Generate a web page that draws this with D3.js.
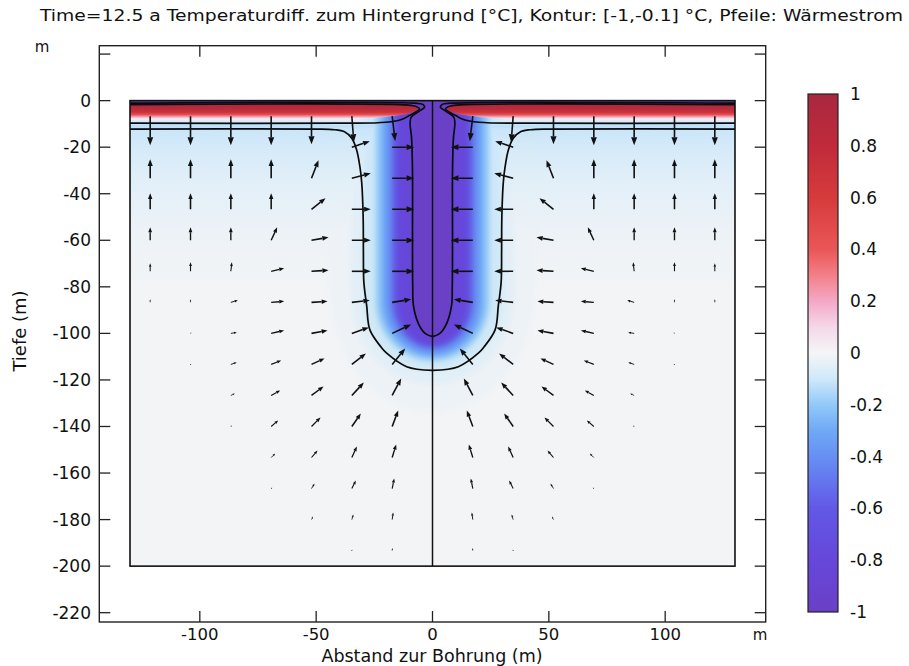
<!DOCTYPE html>
<html>
<head>
<meta charset="utf-8">
<script src="https://cdn.jsdelivr.net/npm/d3@7"></script>
<style>
body { margin: 0; background: #fff; }
svg text { font-family: "DejaVu Sans", sans-serif; fill: #111; }
</style>
</head>
<body>
<div id="chart"></div>
<script>
// ---- data ----
const titleText = "Time=12.5 a Temperaturdiff. zum Hintergrund [°C], Kontur: [-1,-0.1] °C, Pfeile: Wärmestrom";
const xTicks = [-100, -50, 0, 50, 100];
const yTicks = [-220, -200, -180, -160, -140, -120, -100, -80, -60, -40, -20, 0, 20];
const yTickLabels = ["-220", "-200", "-180", "-160", "-140", "-120", "-100", "-80", "-60", "-40", "-20", "0", ""];
const cbTicks = [-1, -0.8, -0.6, -0.4, -0.2, 0, 0.2, 0.4, 0.6, 0.8, 1];
const cbTickLabels = ["-1", "-0.8", "-0.6", "-0.4", "-0.2", "0", "0.2", "0.4", "0.6", "0.8", "1"];

// colour table (value -> colour)
const cmapValues = [-1, -0.8, -0.6, -0.4, -0.3, -0.2, -0.1, 0, 0.1, 0.2, 0.3, 0.4, 0.6, 0.8, 1];
const cmapColors = ["#6a40c6", "#6647da", "#6258e6", "#6690f3", "#70a8f6", "#92c9f8", "#cfe8fa", "#f5f5f6",
                    "#f4d8e8", "#f4a8c6", "#f28088", "#ea5656", "#d63b3c", "#c02a3a", "#a8283f"];

// model domain (m)
const domainX = [-130, 130];
const domainZ = [-200, 0];

// horizontal layering near the surface: depth -> temperature difference
const bandDepth = [-6.5, -9.7, -11, -12.2, -20, -35, -55, -80];
const bandValue = [0, -0.1, -0.13, -0.11, -0.085, -0.05, -0.025, -0.008];
const redDepth = [-1.6, -3.5, -5, -6, -6.8, -7.6, -8.4];
const redValue = [0.95, 0.85, 0.7, 0.45, 0.25, 0.08, 0];

// cold plume around the borehole: level, half width, bottom, depth where it bends
const plumeLevel = [-0.02, -0.05, -0.1, -0.2, -0.3, -0.4, -0.6, -0.8, -1];
const plumeHalfWidth = [44, 35, 29.8, 24.5, 22, 20, 17.5, 15, 8.6];
const plumeBottom = [-134, -122, -116, -112, -110, -108.5, -106.5, -105, -101.4];
const plumeBend = [-82, -84, -86, -86, -86, -86, -86, -86, -84];

// warm band (right half, mirrored)
const redBandOutline = [[130, -1.6], [12, -1.6], [8, -2.1], [6.3, -3.2], [7.2, -4.4], [10, -5.4], [16, -6.5], [25, -7.4], [45, -8.2], [130, -8.4]];

// contour lines (right half, mirrored)
const contourMinus1 = [[130, -1.1], [8, -1.1], [4.2, -1.6], [3.4, -2.8], [5.8, -4.6], [9.2, -7.2], [9.6, -10], [9, -16], [8.6, -30],
                       [8.6, -60], [8.5, -80], [8.2, -88], [6.1, -95.7], [3.2, -100], [0, -101.4]];
const contourUpper01 = [[130, -1.7], [12, -1.8], [7.8, -2.3], [5.6, -3.4], [7, -4.8], [9.8, -6.3], [13, -8], [20, -9.3], [40, -9.7], [130, -9.7]];
const contourOuter01 = [[130, -12.2], [50, -12.2], [42, -12.5], [38, -13.3], [34.7, -16.2], [32.6, -21.2], [31.2, -28.4], [30.4, -35.5],
                        [29.8, -50], [29.7, -65], [29.5, -78], [28.3, -88], [26.9, -98.5], [22, -106], [19.7, -108.5], [11.1, -114.3], [0, -115.9]];

// heat-flux arrows (right half, mirrored): grid positions and components (relative units, qz positive upward)
const arrowR = [17.33, 34.67, 52, 69.33, 86.67, 104, 121.33];
const arrowZ = [-6.67, -20, -33.33, -46.67, -60, -73.33, -86.67, -100, -113.33, -126.67, -140, -153.33, -166.67, -180, -193.33];
const arrowQr = [
  [-3, -2, 0, 0, 0, 0, 0],
  [-22, -18, 0, 0, 0, 0, 0],
  [-22, -19, -7, 0, 0, 0, 0],
  [-22, -19, -14, 0, 0, 0, 0],
  [-22, -19, -17, -6, 0, 0, 0],
  [-22, -19, -17, -13, -1, 0, 0],
  [-19, -18, -16, -13, -7, 0, 0],
  [-19, -17, -16, -13, -6, -1, 0],
  [-13, -14, -13, -10, -6, -1, 0],
  [-9, -12, -12, -9, -4, 0, 0],
  [-6, -9, -9, -7, -1, 0, 0],
  [-4, -5, -6, -4, 0, 0, 0],
  [-2, -4, -3, -1, 0, 0, 0],
  [-1, -1.5, -1.5, 0, 0, 0, 0],
  [-0.3, -0.3, 0, 0, 0, 0, 0]
];
const arrowQz = [
  [-25, -26, -28, -29, -29, -29, -29],
  [0, 6, 0, 0, 0, 0, 0],
  [0, 5, 18, 19, 19, 19, 19],
  [0, 0, 11, 16, 16, 16, 16],
  [0, 0, 3, 13, 13, 13, 13],
  [0, 0, 1, 3, 9, 9, 8],
  [3, 2, 1, 1, 2, 3, 3],
  [9, 6, 3, 3, 1, 1, 0.5],
  [16, 11, 6, 4, 2, 0, 0],
  [17, 13, 9, 5, 2, 0, 0],
  [16, 13, 9, 6, 1, 0, 0],
  [13, 11, 7, 4, 0, 0, 0],
  [10, 8, 5, 1, 0, 0, 0],
  [7, 5, 3, 0, 0, 0, 0],
  [2.5, 1, 0, 0, 0, 0, 0]
];
const arrowScale = 0.43; // metres of plot per unit

// ---- drawing ----
const width = 909, height = 666;
const svg = d3.select("#chart").append("svg")
    .attr("width", width).attr("height", height)
    .attr("viewBox", [0, 0, width, height]);
const defs = svg.append("defs");

const x = d3.scaleLinear().domain([-143.2, 143.2]).range([99.3, 765.7]);
const y = d3.scaleLinear().domain([23.6, -224]).range([45.7, 622]);
const color = d3.scaleLinear().domain(cmapValues).range(cmapColors).interpolate(d3.interpolateRgb).clamp(true);

const mirror = pts => pts.map(p => [-p[0], p[1]]);
const smooth = d3.line().x(d => x(d[0])).y(d => y(d[1])).curve(d3.curveCatmullRom.alpha(0.5));

// clip to model domain
defs.append("clipPath").attr("id", "dom").append("rect")
    .attr("x", x(domainX[0])).attr("y", y(domainZ[1]))
    .attr("width", x(domainX[1]) - x(domainX[0])).attr("height", y(domainZ[0]) - y(domainZ[1]));

defs.append("filter").attr("id", "soft").attr("x", "-20%").attr("y", "-20%").attr("width", "140%").attr("height", "140%")
    .append("feGaussianBlur").attr("stdDeviation", 2.8);

// vertical gradients in user space
function vGradient(id, depths, values, fade) {
    const y0 = y(depths[0]), y1 = y(depths[depths.length - 1]);
    const g = defs.append("linearGradient").attr("id", id)
        .attr("gradientUnits", "userSpaceOnUse")
        .attr("x1", 0).attr("x2", 0).attr("y1", y0).attr("y2", y1);
    depths.forEach((d, i) => {
        g.append("stop").attr("offset", (y(d) - y0) / (y1 - y0))
            .attr("stop-color", color(values[i]))
            .attr("stop-opacity", fade && i === depths.length - 1 ? 0 : 1);
    });
}
vGradient("band", bandDepth, bandValue, false);
vGradient("warm", redDepth, redValue, true);

const field = svg.append("g").attr("clip-path", "url(#dom)").style("isolation", "isolate");

field.append("rect")
    .attr("x", x(domainX[0])).attr("y", y(0))
    .attr("width", x(domainX[1]) - x(domainX[0])).attr("height", y(-200) - y(0))
    .attr("fill", color(-0.005));

field.append("rect")
    .attr("x", x(domainX[0])).attr("y", y(bandDepth[0]))
    .attr("width", x(domainX[1]) - x(domainX[0])).attr("height", y(bandDepth[bandDepth.length - 1]) - y(bandDepth[0]))
    .attr("fill", "url(#band)");

// plume: nested level shapes, softened
const plume = field.append("g").style("mix-blend-mode", "darken")
    .append("g").attr("filter", "url(#soft)");
plumeLevel.forEach((lv, i) => {
    const w = plumeHalfWidth[i], b = plumeBottom[i], k = plumeBend[i];
    const rx = x(w) - x(0), ry = y(b) - y(k);
    const p = `M${x(-w)},${y(2)} L${x(-w)},${y(k)} A${rx},${ry} 0 0 0 ${x(0)},${y(b)} A${rx},${ry} 0 0 0 ${x(w)},${y(k)} L${x(w)},${y(2)} Z`;
    plume.append("path").attr("d", p).attr("fill", color(lv));
});

// warm band near the surface
[redBandOutline, mirror(redBandOutline)].forEach(pts => {
    field.append("path").attr("d", smooth(pts) + "Z").attr("fill", "url(#warm)");
});

// cold surface layer
field.append("rect")
    .attr("x", x(domainX[0])).attr("y", y(0))
    .attr("width", x(domainX[1]) - x(domainX[0])).attr("height", y(-1.5) - y(0))
    .attr("fill", color(-1));

// contour lines
const contours = svg.append("g").attr("clip-path", "url(#dom)")
    .attr("fill", "none").attr("stroke", "#0a0a0a").attr("stroke-width", 1.7);
[contourMinus1, contourUpper01, contourOuter01].forEach(c => {
    contours.append("path").attr("d", smooth(c));
    contours.append("path").attr("d", smooth(mirror(c)));
});

// arrows
const arrows = [];
arrowZ.forEach((z, j) => {
    arrowR.forEach((r, i) => {
        const qr = arrowQr[j][i], qz = arrowQz[j][i];
        arrows.push({ r: r, z: z, qr: qr, qz: qz });
        arrows.push({ r: -r, z: z, qr: -qr, qz: qz });
    });
});
const ag = svg.append("g").attr("clip-path", "url(#dom)");
arrows.forEach(a => {
    const x0 = x(a.r), y0 = y(a.z);
    const x1 = x(a.r + a.qr * arrowScale), y1 = y(a.z + a.qz * arrowScale);
    const len = Math.hypot(x1 - x0, y1 - y0);
    if (len < 0.8) return;
    const ux = (x1 - x0) / len, uy = (y1 - y0) / len;
    const hl = Math.min(8, 0.3 * len + 1), hw = hl * 0.38;
    const bx = x1 - ux * hl, by = y1 - uy * hl;
    const sw = Math.min(1.6, 0.5 + len * 0.065);
    ag.append("line").attr("x1", x0).attr("y1", y0).attr("x2", bx).attr("y2", by)
        .attr("stroke", "#111").attr("stroke-width", sw);
    ag.append("path")
        .attr("d", `M${x1},${y1} L${bx - uy * hw},${by + ux * hw} L${bx + uy * hw},${by - ux * hw} Z`)
        .attr("fill", "#111");
});

// domain outline and symmetry axis
svg.append("rect")
    .attr("x", x(domainX[0])).attr("y", y(0))
    .attr("width", x(domainX[1]) - x(domainX[0])).attr("height", y(-200) - y(0))
    .attr("fill", "none").attr("stroke", "#111").attr("stroke-width", 1.6);
svg.append("line")
    .attr("x1", x(0)).attr("x2", x(0)).attr("y1", y(0)).attr("y2", y(-200))
    .attr("stroke", "#111").attr("stroke-width", 1.5);

// axes frame
const [fx0, fx1] = x.range(), [fy0, fy1] = y.range();
svg.append("rect").attr("x", fx0).attr("y", fy0).attr("width", fx1 - fx0).attr("height", fy1 - fy0)
    .attr("fill", "none").attr("stroke", "#222").attr("stroke-width", 1.4);
const tickLen = 11;
const tg = svg.append("g").attr("stroke", "#222").attr("stroke-width", 1.3);
xTicks.forEach(t => {
    tg.append("line").attr("x1", x(t)).attr("x2", x(t)).attr("y1", fy1).attr("y2", fy1 - tickLen);
    tg.append("line").attr("x1", x(t)).attr("x2", x(t)).attr("y1", fy0).attr("y2", fy0 + tickLen);
});
yTicks.forEach(t => {
    tg.append("line").attr("x1", fx0).attr("x2", fx0 + tickLen).attr("y1", y(t)).attr("y2", y(t));
    tg.append("line").attr("x1", fx1).attr("x2", fx1 - tickLen).attr("y1", y(t)).attr("y2", y(t));
});
svg.append("g").selectAll("text").data(xTicks).join("text")
    .attr("x", d => x(d)).attr("y", 640).attr("text-anchor", "middle")
    .style("font-size", "16.5px").text(d => d);
svg.append("g").selectAll("text").data(yTicks).join("text")
    .attr("x", 91).attr("y", d => y(d) + 6).attr("text-anchor", "end")
    .style("font-size", "17px").text((d, i) => yTickLabels[i]);

svg.append("text").attr("x", 42).attr("y", 52).attr("text-anchor", "middle").style("font-size", "15px").text("m");
svg.append("text").attr("x", 760).attr("y", 640).attr("text-anchor", "middle").style("font-size", "15px").text("m");
svg.append("text").attr("x", 432).attr("y", 662).attr("text-anchor", "middle").style("font-size", "17.5px")
    .text("Abstand zur Bohrung (m)");
svg.append("text").attr("transform", "translate(26,331) rotate(-90)").attr("text-anchor", "middle")
    .style("font-size", "18px").text("Tiefe (m)");
svg.append("text").attr("x", 40).attr("y", 21).style("font-size", "16px")
    .attr("textLength", 863).attr("lengthAdjust", "spacingAndGlyphs").text(titleText);

// colour bar
const cb = d3.scaleLinear().domain([-1, 1]).range([612, 94]);
const cbX0 = 808, cbX1 = 838;
const cg = defs.append("linearGradient").attr("id", "cbar")
    .attr("x1", 0).attr("x2", 0).attr("y1", 1).attr("y2", 0);
cmapValues.forEach((v, i) => {
    cg.append("stop").attr("offset", (v + 1) / 2).attr("stop-color", cmapColors[i]);
});
svg.append("rect").attr("x", cbX0).attr("y", cb(1)).attr("width", cbX1 - cbX0).attr("height", cb(-1) - cb(1))
    .attr("fill", "url(#cbar)").attr("stroke", "#222").attr("stroke-width", 1.2);
cbTicks.slice(1, -1).forEach(t => {
    tg.append("line").attr("x1", cbX0).attr("x2", cbX0 + 5).attr("y1", cb(t)).attr("y2", cb(t));
    tg.append("line").attr("x1", cbX1).attr("x2", cbX1 - 5).attr("y1", cb(t)).attr("y2", cb(t));
});
svg.append("g").selectAll("text").data(cbTicks).join("text")
    .attr("x", 850).attr("y", d => cb(d) + 6)
    .style("font-size", "17px").text((d, i) => cbTickLabels[i]);
</script>
</body>
</html>
